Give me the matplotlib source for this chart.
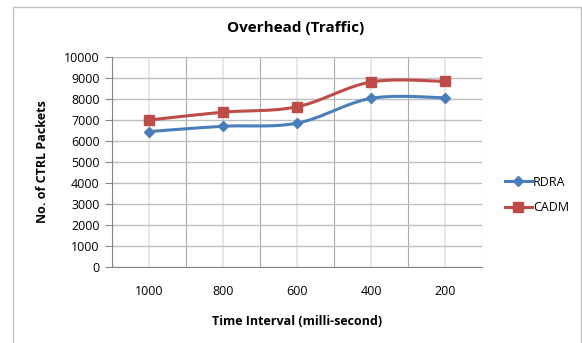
import numpy as np
import matplotlib.pyplot as plt
from matplotlib.patches import Rectangle

# overhead of control packets per time interval
intervals = ['1000', '800', '600', '400', '200']
rdra = [6450, 6700, 6850, 8030, 8060]
cadm = [7000, 7370, 7630, 8810, 8840]

plt.rcParams['font.family'] = ['Open Sans', 'DejaVu Sans']


def smooth(xs, ys, n=30):
    # Catmull-Rom curve through the points, like a spreadsheet "smoothed line"
    p = np.column_stack([xs, ys]).astype(float)
    p = np.vstack([p[0], p, p[-1]])
    out = []
    for i in range(1, len(p) - 2):
        p0, p1, p2, p3 = p[i - 1], p[i], p[i + 1], p[i + 2]
        t = np.linspace(0, 1, n)[:, None]
        seg = 0.5 * ((2 * p1) + (-p0 + p2) * t + (2 * p0 - 5 * p1 + 4 * p2 - p3) * t ** 2
                     + (-p0 + 3 * p1 - 3 * p2 + p3) * t ** 3)
        out.append(seg)
    out = np.vstack(out)
    return out[:, 0], out[:, 1]


fig = plt.figure(figsize=(5.82, 3.43), dpi=100)
fig.patches.append(Rectangle((12.5 / 582, -0.1), (581 - 12.5) / 582, 1.1 - 6.5 / 343,
                             transform=fig.transFigure, fill=False, edgecolor='#bfbfbf', lw=1))

ax = fig.add_axes([112 / 582, 1 - 267 / 343, 370 / 582, 210 / 343])
x = np.arange(len(intervals))

blue = '#4a7ebb'
red = '#be4b48'
sx, sy = smooth(x, rdra)
ax.plot(sx, sy, color=blue, lw=2.2, zorder=3)
ax.plot(x, rdra, ls='none', marker='D', ms=5.5, color=blue, zorder=4)
sx, sy = smooth(x, cadm)
ax.plot(sx, sy, color=red, lw=2.2, zorder=3)
ax.plot(x, cadm, ls='none', marker='s', ms=7, color=red, zorder=4)

# legend handles
ax.plot([], [], color=blue, lw=2.2, marker='D', ms=5.5, label='RDRA')
ax.plot([], [], color=red, lw=2.2, marker='s', ms=7, label='CADM')

ax.set_xlim(-0.5, len(intervals) - 0.5)
ax.set_ylim(0, 10000)
ax.set_yticks(np.arange(0, 10001, 1000))
ax.set_xticks(x)
ax.set_xticklabels(intervals)
ax.set_xticks(np.arange(-0.5, len(intervals)), minor=True)
ax.tick_params(axis='x', which='major', length=0, pad=13, labelsize=9)
ax.tick_params(axis='x', which='minor', length=0)
ax.tick_params(axis='y', length=5, color='#868686', pad=4, labelsize=9)
ax.grid(axis='y', color='#bdbdbd', lw=1)
ax.grid(axis='x', which='major', color='#e3e3e3', lw=1.2)
ax.grid(axis='x', which='minor', color='#a8a8a8', lw=0.8)
ax.set_axisbelow(True)
for side in ['top', 'right']:
    ax.spines[side].set_visible(False)
ax.spines['left'].set_color('#868686')
ax.spines['bottom'].set_color('#868686')

fig.text(296 / 582, 1 - 28 / 343, 'Overhead (Traffic)', fontsize=11, fontweight='bold',
         ha='center', va='center')
ax.set_xlabel('Time Interval (milli-second)', fontsize=9, fontweight='bold', labelpad=12)
ax.set_ylabel('No. of CTRL Packets', fontsize=9, fontweight='bold', labelpad=11)

fig.legend(loc='center left', bbox_to_anchor=(499 / 582, 1 - 195 / 343), frameon=False,
           fontsize=9, handlelength=2.1, handletextpad=0.1, labelspacing=1.0,
           borderpad=0)

fig.savefig('out.png', dpi=100)
